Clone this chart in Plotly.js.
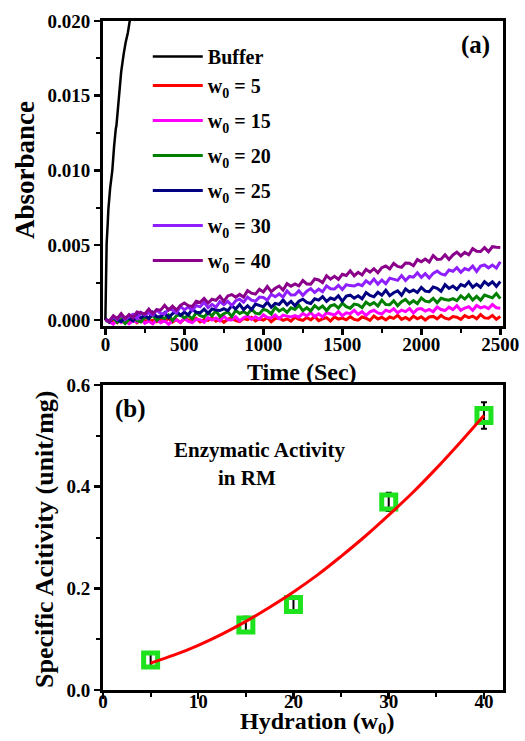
<!DOCTYPE html>
<html>
<head>
<meta charset="utf-8">
<script src="https://cdn.plot.ly/plotly-3.0.1.min.js"></script>
<style>
  html, body { margin: 0; padding: 0; background: #ffffff; }
  #chart { width: 525px; height: 741px; }
</style>
</head>
<body>
<div id="chart"></div>
<script>
// ---- Panel (a): absorbance kinetics ----
const bufferTime = [0, 2, 4, 8, 15, 19, 30, 44, 55, 61, 66, 70, 80, 87, 100, 116, 122, 129, 142, 154, 165];
const bufferAbs = [0.0000, 0.0015, 0.0038, 0.0051, 0.0065, 0.0074, 0.0088, 0.0100, 0.0116, 0.0125, 0.0128, 0.0130, 0.0143, 0.0154, 0.0166, 0.0178, 0.0182, 0.0186, 0.0192, 0.0200, 0.0207];

const timeSec = [0, 25, 50, 75, 100, 125, 150, 175, 200, 225, 250, 275, 300, 325, 350, 375, 400, 425, 450, 475,
  500, 525, 550, 575, 600, 625, 650, 675, 700, 725, 750, 775, 800, 825, 850, 875, 900, 925, 950, 975,
  1000, 1025, 1050, 1075, 1100, 1125, 1150, 1175, 1200, 1225, 1250, 1275, 1300, 1325, 1350, 1375, 1400, 1425, 1450, 1475,
  1500, 1525, 1550, 1575, 1600, 1625, 1650, 1675, 1700, 1725, 1750, 1775, 1800, 1825, 1850, 1875, 1900, 1925, 1950, 1975,
  2000, 2025, 2050, 2075, 2100, 2125, 2150, 2175, 2200, 2225, 2250, 2275, 2300, 2325, 2350, 2375, 2400, 2425, 2450, 2475, 2500];

const absW5 = [0.00005, -0.00016, -0.00003, -0.00018, 0.00008, -0.00008, -0.00012, 0.00004, -0.00019, 0.00002,
  -0.00004, -0.00009, -0.00003, -0.00012, 0.00009, -0.00008, 0.00011, -0.00014, 0.00003, -0.00017,
  0.00008, -0.00001, -0.00008, 0.00011, -0.00013, 0.00003, -0.00003, 0.00017, -0.00008, 0.00007,
  -0.00015, 0.00005, 0.00012, -0.00004, -0.00011, 0.00010, 0.00002, 0.00017, -0.00007, 0.00008,
  -0.00001, 0.00015, -0.00012, 0.00010, 0.00013, -0.00002, 0.00008, -0.00008, 0.00019, 0.00005,
  -0.00003, 0.00017, 0.00001, 0.00023, -0.00004, 0.00008, 0.00016, -0.00007, 0.00021, 0.00006,
  0.00013, 0.00001, 0.00022, 0.00004, -0.00001, 0.00020, 0.00012, -0.00003, 0.00026, 0.00007,
  0.00018, 0.00000, 0.00020, 0.00011, 0.00031, 0.00004, 0.00017, 0.00001, 0.00025, 0.00008,
  0.00021, 0.00000, 0.00020, 0.00024, 0.00008, 0.00030, 0.00012, 0.00005, 0.00023, 0.00018,
  0.00004, 0.00029, 0.00016, 0.00026, 0.00008, 0.00036, 0.00014, 0.00012, 0.00031, 0.00005, 0.00023];

const absW15 = [-0.00001, -0.00010, -0.00028, 0.00006, -0.00017, -0.00006, -0.00026, -0.00002, -0.00013, 0.00008,
  -0.00022, -0.00008, -0.00026, 0.00001, -0.00018, -0.00004, -0.00029, -0.00004, 0.00002, -0.00016,
  0.00010, -0.00009, -0.00017, 0.00005, 0.00001, -0.00015, 0.00015, 0.00000, 0.00013, -0.00006,
  0.00025, 0.00001, 0.00000, 0.00022, -0.00006, 0.00015, 0.00027, 0.00004, 0.00021, 0.00005,
  0.00035, 0.00017, 0.00014, 0.00033, 0.00009, 0.00032, 0.00026, 0.00021, 0.00030, 0.00019,
  0.00044, 0.00027, 0.00050, 0.00022, 0.00041, 0.00020, 0.00048, 0.00040, 0.00033, 0.00056,
  0.00028, 0.00048, 0.00042, 0.00065, 0.00038, 0.00056, 0.00031, 0.00054, 0.00065, 0.00047,
  0.00040, 0.00065, 0.00056, 0.00075, 0.00048, 0.00066, 0.00056, 0.00076, 0.00046, 0.00072,
  0.00076, 0.00059, 0.00071, 0.00055, 0.00087, 0.00070, 0.00063, 0.00086, 0.00070, 0.00095,
  0.00065, 0.00080, 0.00089, 0.00065, 0.00097, 0.00081, 0.00090, 0.00076, 0.00103, 0.00082, 0.00078];

const absW20 = [-0.00004, -0.00011, 0.00017, -0.00016, 0.00007, -0.00024, 0.00005, 0.00018, -0.00003, -0.00013,
  0.00019, 0.00009, 0.00031, -0.00002, 0.00021, 0.00010, 0.00034, -0.00004, 0.00030, 0.00035,
  0.00014, 0.00030, 0.00008, 0.00049, 0.00029, 0.00020, 0.00049, 0.00028, 0.00061, 0.00023,
  0.00042, 0.00054, 0.00023, 0.00064, 0.00044, 0.00056, 0.00039, 0.00072, 0.00046, 0.00041,
  0.00072, 0.00063, 0.00041, 0.00085, 0.00059, 0.00075, 0.00051, 0.00082, 0.00071, 0.00098,
  0.00062, 0.00082, 0.00060, 0.00096, 0.00074, 0.00094, 0.00063, 0.00094, 0.00102, 0.00079,
  0.00112, 0.00089, 0.00079, 0.00106, 0.00101, 0.00082, 0.00119, 0.00101, 0.00117, 0.00093,
  0.00133, 0.00104, 0.00102, 0.00129, 0.00095, 0.00122, 0.00137, 0.00109, 0.00129, 0.00109,
  0.00147, 0.00126, 0.00121, 0.00145, 0.00115, 0.00145, 0.00137, 0.00132, 0.00143, 0.00129,
  0.00161, 0.00140, 0.00168, 0.00133, 0.00158, 0.00132, 0.00167, 0.00157, 0.00148, 0.00177, 0.00143];

const absW25 = [0.00008, -0.00013, 0.00020, -0.00002, -0.00011, 0.00017, 0.00012, -0.00006, 0.00032, 0.00015,
  0.00032, 0.00009, 0.00050, 0.00021, 0.00021, 0.00048, 0.00015, 0.00042, 0.00059, 0.00031,
  0.00052, 0.00034, 0.00072, 0.00052, 0.00048, 0.00073, 0.00043, 0.00074, 0.00067, 0.00063,
  0.00075, 0.00062, 0.00095, 0.00074, 0.00104, 0.00069, 0.00095, 0.00069, 0.00106, 0.00096,
  0.00088, 0.00119, 0.00085, 0.00111, 0.00104, 0.00134, 0.00101, 0.00125, 0.00095, 0.00125,
  0.00139, 0.00118, 0.00110, 0.00142, 0.00133, 0.00156, 0.00124, 0.00147, 0.00137, 0.00162,
  0.00125, 0.00160, 0.00166, 0.00146, 0.00162, 0.00142, 0.00183, 0.00164, 0.00155, 0.00186,
  0.00166, 0.00199, 0.00163, 0.00182, 0.00195, 0.00165, 0.00207, 0.00187, 0.00200, 0.00184,
  0.00218, 0.00193, 0.00189, 0.00221, 0.00212, 0.00192, 0.00236, 0.00211, 0.00227, 0.00205,
  0.00237, 0.00226, 0.00255, 0.00219, 0.00240, 0.00219, 0.00256, 0.00234, 0.00255, 0.00225, 0.00257];

const absW30 = [-0.00002, -0.00009, 0.00022, 0.00003, 0.00038, 0.00003, 0.00023, 0.00037, 0.00009, 0.00051,
  0.00033, 0.00047, 0.00032, 0.00067, 0.00043, 0.00041, 0.00073, 0.00066, 0.00047, 0.00092,
  0.00068, 0.00086, 0.00064, 0.00097, 0.00088, 0.00118, 0.00083, 0.00105, 0.00086, 0.00123,
  0.00103, 0.00125, 0.00096, 0.00129, 0.00139, 0.00119, 0.00153, 0.00132, 0.00125, 0.00153,
  0.00150, 0.00133, 0.00172, 0.00156, 0.00174, 0.00153, 0.00194, 0.00167, 0.00168, 0.00196,
  0.00164, 0.00193, 0.00210, 0.00184, 0.00206, 0.00189, 0.00228, 0.00209, 0.00207, 0.00232,
  0.00204, 0.00236, 0.00230, 0.00227, 0.00240, 0.00229, 0.00262, 0.00243, 0.00274, 0.00240,
  0.00267, 0.00243, 0.00280, 0.00272, 0.00265, 0.00297, 0.00264, 0.00291, 0.00286, 0.00316,
  0.00285, 0.00310, 0.00281, 0.00312, 0.00327, 0.00308, 0.00300, 0.00334, 0.00326, 0.00350,
  0.00319, 0.00344, 0.00334, 0.00361, 0.00325, 0.00361, 0.00368, 0.00349, 0.00367, 0.00347, 0.00390];

const absW40 = [0.00003, -0.00007, 0.00028, 0.00010, 0.00042, 0.00010, 0.00037, 0.00014, 0.00053, 0.00046,
  0.00040, 0.00073, 0.00042, 0.00070, 0.00066, 0.00098, 0.00067, 0.00093, 0.00066, 0.00098,
  0.00114, 0.00096, 0.00090, 0.00125, 0.00118, 0.00144, 0.00113, 0.00139, 0.00131, 0.00159,
  0.00124, 0.00161, 0.00170, 0.00152, 0.00171, 0.00153, 0.00196, 0.00179, 0.00173, 0.00206,
  0.00188, 0.00224, 0.00190, 0.00212, 0.00227, 0.00200, 0.00243, 0.00226, 0.00241, 0.00228,
  0.00264, 0.00241, 0.00240, 0.00274, 0.00268, 0.00250, 0.00296, 0.00273, 0.00292, 0.00272,
  0.00306, 0.00298, 0.00329, 0.00296, 0.00319, 0.00301, 0.00339, 0.00320, 0.00343, 0.00316,
  0.00350, 0.00361, 0.00342, 0.00378, 0.00358, 0.00352, 0.00381, 0.00379, 0.00363, 0.00404,
  0.00389, 0.00408, 0.00388, 0.00431, 0.00405, 0.00407, 0.00436, 0.00405, 0.00435, 0.00454,
  0.00429, 0.00452, 0.00436, 0.00477, 0.00459, 0.00458, 0.00484, 0.00457, 0.00490, 0.00486, 0.00484];

const seriesNames = ['w<sub>0</sub> = 5', 'w<sub>0</sub> = 15', 'w<sub>0</sub> = 20', 'w<sub>0</sub> = 25', 'w<sub>0</sub> = 30', 'w<sub>0</sub> = 40'];
const seriesValues = [absW5, absW15, absW20, absW25, absW30, absW40];
const seriesColors = ['#ff0000', '#ff00ff', '#008000', '#000080', '#8f1fff', '#8b008b'];

// ---- Panel (b): specific activity vs hydration ----
const hydration = [5, 15, 20, 30, 40];
const activity = [0.059, 0.128, 0.168, 0.370, 0.540];
const activityErr = [0.013, 0.016, 0.015, 0.018, 0.026];
const fitHydration = [5, 7.5, 10, 12.5, 15, 17.5, 20, 22.5, 25, 27.5, 30, 32.5, 35, 37.5, 40];
const fitActivity = [0.053, 0.069, 0.088, 0.110, 0.135, 0.163, 0.193, 0.226, 0.263, 0.302, 0.344, 0.388, 0.436, 0.487, 0.540];

const serif = '"Liberation Serif", serif';
const bold = (size) => ({ family: serif, size: size, weight: 'bold', color: '#000000' });

const traces = [{
  x: bufferTime, y: bufferAbs, type: 'scatter', mode: 'lines',
  name: 'Buffer', legendgroup: 'g0',
  line: { color: '#000000', width: 2.5 },
  xaxis: 'x', yaxis: 'y'
}];
seriesValues.forEach((vals, k) => {
  traces.push({
    x: timeSec, y: vals, type: 'scatter', mode: 'lines',
    name: seriesNames[k], legendgroup: k === 0 ? 'g0' : 'g' + (k + 1),
    line: { color: seriesColors[k], width: 3 },
    xaxis: 'x', yaxis: 'y'
  });
});
traces.push({
  x: hydration, y: activity, type: 'scatter', mode: 'markers',
  showlegend: false,
  marker: { symbol: 'square-open', size: 14, color: '#1fe21f', line: { width: 5, color: '#1fe21f' } },
  error_y: { type: 'data', array: activityErr, visible: true, color: '#000000', thickness: 2, width: 3 },
  xaxis: 'x2', yaxis: 'y2'
});
traces.push({
  x: fitHydration, y: fitActivity, type: 'scatter', mode: 'lines',
  showlegend: false, line: { color: '#ff0000', width: 3, shape: 'spline' },
  xaxis: 'x2', yaxis: 'y2'
});

const axisCommon = {
  showline: true, linecolor: '#000000', linewidth: 3, mirror: true,
  ticks: 'outside', ticklen: 6, tickwidth: 2.5, tickcolor: '#000000',
  showgrid: false, zeroline: false, automargin: false,
  tickfont: bold(19)
};
const minorTicks = (d) => ({ ticks: 'outside', ticklen: 4, tickwidth: 2, tickcolor: '#000000', dtick: d, showgrid: false });

// axis titles are placed as paper annotations so they sit at fixed spots
const label = (text, x, y, size, angle) => ({
  text: text, xref: 'paper', yref: 'paper', x: x, y: y, showarrow: false,
  font: bold(size), xanchor: 'center', yanchor: 'middle', textangle: angle || 0
});

const layout = {
  width: 525, height: 741,
  margin: { l: 0, r: 0, t: 0, b: 0 },
  paper_bgcolor: '#ffffff', plot_bgcolor: '#ffffff',
  font: bold(19),
  showlegend: true,
  legend: {
    x: 0.2815, y: 0.950, xanchor: 'left', yanchor: 'top',
    bgcolor: 'rgba(0,0,0,0)', borderwidth: 0,
    font: bold(20),
    tracegroupgap: 6, itemwidth: 50
  },
  xaxis: Object.assign({}, axisCommon, {
    domain: [0.1962, 0.9581], anchor: 'y',
    range: [-15, 2517], dtick: 500, tick0: 0,
    minor: minorTicks(250), ticklabelstandoff: -7
  }),
  yaxis: Object.assign({}, axisCommon, {
    domain: [0.5601, 0.9717], anchor: 'x',
    range: [-0.0004, 0.020], dtick: 0.005, tick0: 0, tickformat: '.3f',
    minor: minorTicks(0.0025)
  }),
  xaxis2: Object.assign({}, axisCommon, {
    domain: [0.1962, 0.9581], anchor: 'y2',
    range: [0, 42], dtick: 10, tick0: 0,
    minor: minorTicks(5), ticklabelstandoff: -14
  }),
  yaxis2: Object.assign({}, axisCommon, {
    domain: [0.0688, 0.4804], anchor: 'x2',
    range: [0, 0.6], dtick: 0.2, tick0: 0, tickformat: '.1f',
    minor: minorTicks(0.1)
  }),
  annotations: [
    label('Time (Sec)', 302 / 525, 1 - 372 / 741, 24),
    label('Absorbance', 25 / 525, 1 - 170 / 741, 27, -90),
    label('Hydration (w<sub>0</sub>)', 317 / 525, 1 - 723 / 741, 24),
    label('Specific Acitivity (unit/mg)', 44 / 525, 1 - 539 / 741, 26, -90),
    label('(a)', 0.905, 0.939, 25),
    label('(b)', 0.2495, 0.448, 25),
    label('Enzymatic Activity', 0.495, 0.393, 21),
    label('in RM', 0.470, 0.355, 21)
  ]
};

Plotly.newPlot('chart', traces, layout, { displayModeBar: false, staticPlot: true });
</script>
</body>
</html>
